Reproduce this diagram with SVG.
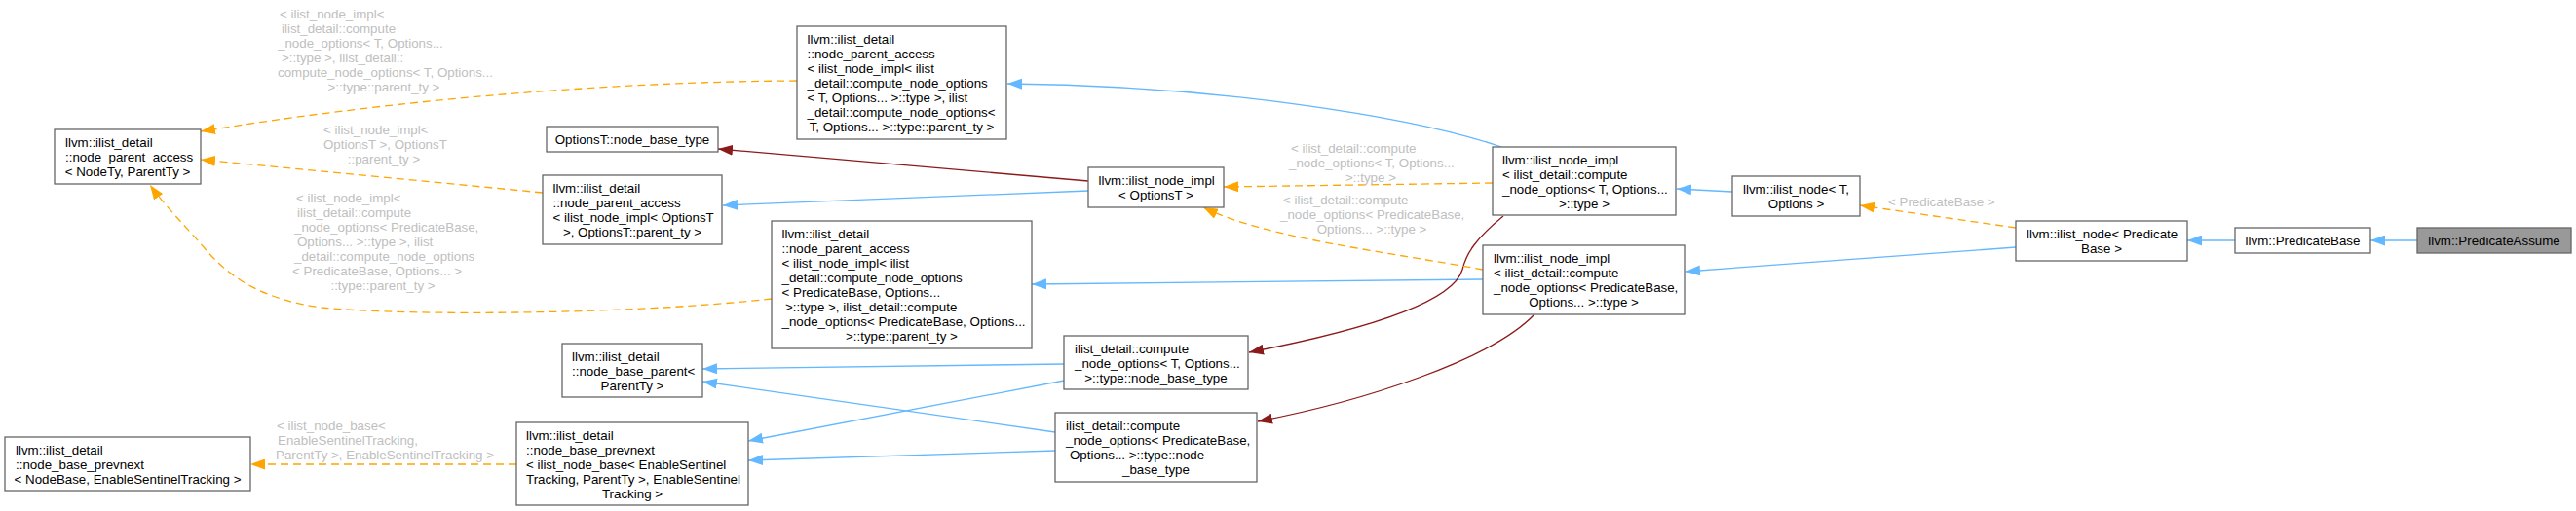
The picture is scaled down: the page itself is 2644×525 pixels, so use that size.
<svg xmlns="http://www.w3.org/2000/svg" width="2644" height="525" viewBox="0 0 2644 525">
<style>
.n rect{fill:#fff;stroke:#666;stroke-width:1.3}
.n text,.lb text{font-family:"Liberation Sans",Arial,sans-serif;font-size:13.33px}
.n text{fill:#000}
.lb text{fill:#c0c0c0}
.m{text-anchor:middle}
.b{fill:none;stroke:#63b8ff;stroke-width:1.3}
.r{fill:none;stroke:#8b1a1a;stroke-width:1.3}
.o{fill:none;stroke:#ffa500;stroke-width:1.3;stroke-dasharray:8,5}
</style>
<defs>
<marker id="ab" markerWidth="15" markerHeight="11" refX="15" refY="5.5" orient="auto" markerUnits="userSpaceOnUse"><path d="M0,0 L15,5.5 L0,11 z" fill="#63b8ff"/></marker>
<marker id="ar" markerWidth="15" markerHeight="11" refX="15" refY="5.5" orient="auto" markerUnits="userSpaceOnUse"><path d="M0,0 L15,5.5 L0,11 z" fill="#8b1a1a"/></marker>
<marker id="ao" markerWidth="15" markerHeight="11" refX="15" refY="5.5" orient="auto" markerUnits="userSpaceOnUse"><path d="M0,0 L15,5.5 L0,11 z" fill="#ffa500"/></marker>
</defs>
<rect width="2644" height="525" fill="#fff"/>
<g id="edges">
<path class="b" marker-end="url(#ab)" d="M2481,247 L2433,247"/>
<path class="b" marker-end="url(#ab)" d="M2294,247 L2245,247"/>
<path class="b" marker-end="url(#ab)" d="M2069,254 L1730,279"/>
<path class="b" marker-end="url(#ab)" d="M1778,197 L1721,194"/>
<path class="b" marker-end="url(#ab)" d="M1541,151 C1450,120 1250,88 1034,86"/>
<path class="b" marker-end="url(#ab)" d="M1522,287 L1059,292"/>
<path class="b" marker-end="url(#ab)" d="M1117,196 L742,211"/>
<path class="b" marker-end="url(#ab)" d="M1092,374 L721,379"/>
<path class="b" marker-end="url(#ab)" d="M1092,391 L768,453"/>
<path class="b" marker-end="url(#ab)" d="M1083,444 L721,392"/>
<path class="b" marker-end="url(#ab)" d="M1083,463 L768,473"/>
<path class="r" marker-end="url(#ar)" d="M1117,186 L737,153"/>
<path class="r" marker-end="url(#ar)" d="M1543,222 C1515,245 1505,260 1501,277 C1490,315 1380,343 1282,362"/>
<path class="r" marker-end="url(#ar)" d="M1575,323 C1530,370 1400,412 1291,433"/>
<path class="o" marker-end="url(#ao)" d="M2069,234 L1909,211"/>
<path class="o" marker-end="url(#ao)" d="M1532,188 L1256,192"/>
<path class="o" marker-end="url(#ao)" d="M1522,277 C1420,258 1300,245 1235,213"/>
<path class="o" marker-end="url(#ao)" d="M818,83 C640,84 420,100 206,135"/>
<path class="o" marker-end="url(#ao)" d="M557,198 L206,164"/>
<path class="o" marker-end="url(#ao)" d="M792,307 C650,323 420,325 330,316 C270,308 235,285 210,255 C190,232 168,210 154,190"/>
<path class="o" marker-end="url(#ao)" d="M530,477 L257,477"/>
<g class="lb">
<text x="1938" y="212">&lt; PredicateBase &gt;</text>
<text x="1325" y="156.5">&lt; ilist_detail::compute</text>
<text x="1323" y="171.5">_node_options&lt; T, Options...</text>
<text class="m" x="1407" y="186.5">&gt;::type &gt;</text>
<text x="1317" y="209.5">&lt; ilist_detail::compute</text>
<text x="1314" y="224.5">_node_options&lt; PredicateBase,</text>
<text class="m" x="1408" y="239.5">Options... &gt;::type &gt;</text>
<text x="287" y="18.5">&lt; ilist_node_impl&lt;</text>
<text x="289" y="33.5">ilist_detail::compute</text>
<text x="285" y="48.5">_node_options&lt; T, Options...</text>
<text x="289" y="63.5">&gt;::type &gt;, ilist_detail::</text>
<text x="285" y="78.5">compute_node_options&lt; T, Options...</text>
<text class="m" x="394" y="93.5">&gt;::type::parent_ty &gt;</text>
<text x="332" y="137.5">&lt; ilist_node_impl&lt;</text>
<text x="332" y="152.5">OptionsT &gt;, OptionsT</text>
<text class="m" x="394" y="167.5">::parent_ty &gt;</text>
<text x="304" y="207.5">&lt; ilist_node_impl&lt;</text>
<text x="305" y="222.5">ilist_detail::compute</text>
<text x="302" y="237.5">_node_options&lt; PredicateBase,</text>
<text x="305" y="252.5">Options... &gt;::type &gt;, ilist</text>
<text x="302" y="267.5">_detail::compute_node_options</text>
<text x="300" y="282.5">&lt; PredicateBase, Options... &gt;</text>
<text class="m" x="393" y="297.5">::type::parent_ty &gt;</text>
<text x="284" y="442">&lt; ilist_node_base&lt;</text>
<text x="285" y="457">EnableSentinelTracking,</text>
<text class="m" x="395" y="472">ParentTy &gt;, EnableSentinelTracking &gt;</text>
</g>
</g>
<g id="nA" class="n"><rect x="56" y="133" width="150" height="56"/><text x="67" y="150.5">llvm::ilist_detail</text><text x="67" y="165.5">::node_parent_access</text><text class="m" x="131" y="180.5">&lt; NodeTy, ParentTy &gt;</text></g>
<g id="nB" class="n"><rect x="5" y="449" width="252" height="55"/><text x="16" y="466.5">llvm::ilist_detail</text><text x="16" y="481.5">::node_base_prevnext</text><text class="m" x="131" y="496.5">&lt; NodeBase, EnableSentinelTracking &gt;</text></g>
<g id="nC" class="n"><rect x="561" y="130" width="176" height="26"/><text class="m" x="649" y="147.5">OptionsT::node_base_type</text></g>
<g id="nD" class="n"><rect x="557" y="180" width="184" height="71"/><text x="567.5" y="197.5">llvm::ilist_detail</text><text x="567.5" y="212.5">::node_parent_access</text><text x="567.5" y="227.5">&lt; ilist_node_impl&lt; OptionsT</text><text class="m" x="649" y="242.5">&gt;, OptionsT::parent_ty &gt;</text></g>
<g id="nE" class="n"><rect x="818" y="27" width="215" height="116"/><text x="828.5" y="44.5">llvm::ilist_detail</text><text x="828.5" y="59.5">::node_parent_access</text><text x="828.5" y="74.5">&lt; ilist_node_impl&lt; ilist</text><text x="828.5" y="89.5">_detail::compute_node_options</text><text x="828.5" y="104.5">&lt; T, Options... &gt;::type &gt;, ilist</text><text x="828.5" y="119.5">_detail::compute_node_options&lt;</text><text class="m" x="925.5" y="134.5">T, Options... &gt;::type::parent_ty &gt;</text></g>
<g id="nF" class="n"><rect x="792" y="227" width="267" height="131"/><text x="802.5" y="244.5">llvm::ilist_detail</text><text x="802.5" y="259.5">::node_parent_access</text><text x="802.5" y="274.5">&lt; ilist_node_impl&lt; ilist</text><text x="802.5" y="289.5">_detail::compute_node_options</text><text x="802.5" y="304.5">&lt; PredicateBase, Options...</text><text x="806" y="319.5">&gt;::type &gt;, ilist_detail::compute</text><text x="802.5" y="334.5">_node_options&lt; PredicateBase, Options...</text><text class="m" x="925.5" y="349.5">&gt;::type::parent_ty &gt;</text></g>
<g id="nG" class="n"><rect x="577" y="353" width="144" height="55"/><text x="587" y="370.5">llvm::ilist_detail</text><text x="587" y="385.5">::node_base_parent&lt;</text><text class="m" x="649" y="400.5">ParentTy &gt;</text></g>
<g id="nH" class="n"><rect x="530" y="434" width="238" height="85"/><text x="540" y="451.5">llvm::ilist_detail</text><text x="540" y="466.5">::node_base_prevnext</text><text x="540" y="481.5">&lt; ilist_node_base&lt; EnableSentinel</text><text x="540" y="496.5">Tracking, ParentTy &gt;, EnableSentinel</text><text class="m" x="649" y="511.5">Tracking &gt;</text></g>
<g id="nI" class="n"><rect x="1117" y="172" width="139" height="41"/><text x="1127.5" y="189.5">llvm::ilist_node_impl</text><text class="m" x="1186.5" y="204.5">&lt; OptionsT &gt;</text></g>
<g id="nJ" class="n"><rect x="1092" y="345" width="189" height="55"/><text x="1103" y="362.5">ilist_detail::compute</text><text x="1103" y="377.5">_node_options&lt; T, Options...</text><text class="m" x="1186.5" y="392.5">&gt;::type::node_base_type</text></g>
<g id="nK" class="n"><rect x="1083" y="424" width="207" height="71"/><text x="1094" y="441.5">ilist_detail::compute</text><text x="1094" y="456.5">_node_options&lt; PredicateBase,</text><text x="1098" y="471.5">Options... &gt;::type::node</text><text class="m" x="1186.5" y="486.5">_base_type</text></g>
<g id="nL" class="n"><rect x="1532" y="151" width="188" height="70"/><text x="1542" y="168.5">llvm::ilist_node_impl</text><text x="1542" y="183.5">&lt; ilist_detail::compute</text><text x="1542" y="198.5">_node_options&lt; T, Options...</text><text class="m" x="1626" y="213.5">&gt;::type &gt;</text></g>
<g id="nM" class="n"><rect x="1522" y="252" width="207" height="71"/><text x="1533" y="269.5">llvm::ilist_node_impl</text><text x="1533" y="284.5">&lt; ilist_detail::compute</text><text x="1533" y="299.5">_node_options&lt; PredicateBase,</text><text class="m" x="1625.5" y="314.5">Options... &gt;::type &gt;</text></g>
<g id="nN" class="n"><rect x="1778" y="181" width="131" height="41"/><text x="1789" y="198.5">llvm::ilist_node&lt; T,</text><text class="m" x="1843.5" y="213.5">Options &gt;</text></g>
<g id="nO" class="n"><rect x="2069" y="227" width="176" height="41"/><text x="2080" y="244.5">llvm::ilist_node&lt; Predicate</text><text class="m" x="2157" y="259.5">Base &gt;</text></g>
<g id="nP" class="n"><rect x="2294" y="234" width="139" height="26"/><text class="m" x="2363.5" y="251.5">llvm::PredicateBase</text></g>
<g id="nQ" class="n"><rect x="2481" y="234" width="158" height="26" style="fill:#999"/><text class="m" x="2560" y="251.5">llvm::PredicateAssume</text></g>
</svg>
